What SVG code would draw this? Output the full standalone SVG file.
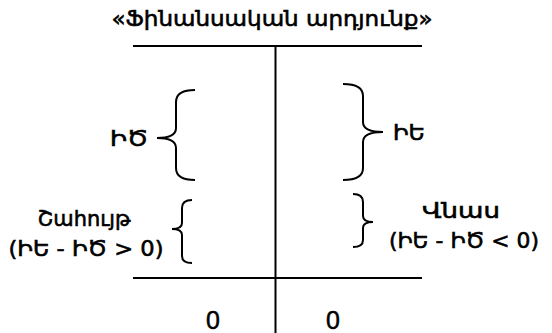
<svg xmlns="http://www.w3.org/2000/svg" width="552" height="333" viewBox="0 0 552 333">
<style>
text{font-family:"DejaVu Sans","Liberation Sans",sans-serif;fill:#000;stroke:#000;stroke-width:0.6;dominant-baseline:central}
.t{font-size:22px}
.n{font-size:22px}
.z{font-family:"Liberation Sans",sans-serif;font-size:25px;stroke-width:0.5}
.br{fill:none;stroke:#000;stroke-width:2}
</style>
<rect width="552" height="333" fill="#fff"/>
<g id="title"><text class="t" x="272" y="18" text-anchor="middle" textLength="321" lengthAdjust="spacingAndGlyphs">«Ֆինանսական արդյունք»</text></g>
<g id="connectors" stroke="#000" stroke-width="2" fill="none">
<line x1="133" y1="46" x2="422" y2="46"/>
<line x1="133" y1="278" x2="422" y2="278"/>
<line x1="275.5" y1="46" x2="275.5" y2="333"/>
<path class="br" d="M195,90 Q176,90 176,102 L176,128 Q176,138 157,138 Q176,138 176,148 L176,168 Q176,180 195,180"/>
<path class="br" d="M343,84 Q363,84 363,96 L363,122 Q363,132 383,132 Q363,132 363,142 L363,168 Q363,180 343,180"/>
<path class="br" d="M192,200 Q182,200 182,208 L182,223 Q182,229 172,229 Q182,229 182,235 L182,256 Q182,263 192,263"/>
<path class="br" d="M353,194 Q363,194 363,202 L363,216 Q363,222 373,222 Q363,222 363,228 L363,240 Q363,247 353,247"/>
</g>
<g id="costs"><text class="n" x="110" y="138" textLength="38" lengthAdjust="spacingAndGlyphs">ԻԾ</text></g>
<g id="revenue"><text class="n" x="393" y="132" textLength="32" lengthAdjust="spacingAndGlyphs">ԻԵ</text></g>
<g id="profit">
<text class="n" x="84" y="218" text-anchor="middle" textLength="93" lengthAdjust="spacingAndGlyphs">Շահույթ</text>
<text class="n" x="86" y="248" text-anchor="middle" textLength="155" lengthAdjust="spacingAndGlyphs">(ԻԵ - ԻԾ &gt; 0)</text>
</g>
<g id="loss">
<text class="n" x="461" y="210" text-anchor="middle" textLength="78" lengthAdjust="spacingAndGlyphs">Վնաս</text>
<text class="n" x="464" y="240" text-anchor="middle" textLength="150" lengthAdjust="spacingAndGlyphs">(ԻԵ - ԻԾ &lt; 0)</text>
</g>
<g id="zeros">
<text class="z" x="213" y="320" text-anchor="middle">0</text>
<text class="z" x="333" y="320" text-anchor="middle">0</text>
</g>
</svg>
